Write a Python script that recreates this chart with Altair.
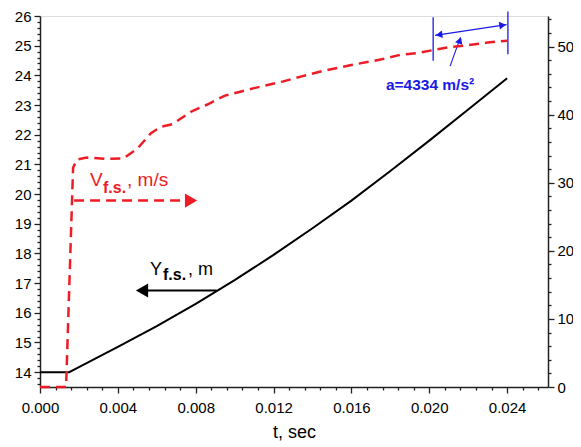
import altair as alt
import pandas as pd

# ---------------- data ----------------
# black curve: Y_f.s. (left axis, m)
t_y = [0.0, 0.0015, 0.002, 0.004, 0.006, 0.008, 0.010, 0.012, 0.014, 0.016,
       0.018, 0.020, 0.022, 0.024]
y_fs = [14.0, 14.0, 14.17, 14.85, 15.55, 16.3, 17.1, 17.95, 18.85, 19.78,
        20.78, 21.8, 22.85, 23.9]

# red dashed curve: V_f.s. (right axis, m/s)
t_v = [0.0, 0.00134, 0.00170, 0.0019, 0.0024, 0.0035, 0.0043, 0.0050, 0.0057,
       0.0062, 0.0068, 0.0078, 0.0086, 0.0095, 0.0110, 0.0125, 0.0134, 0.0145,
       0.0160, 0.0175, 0.0185, 0.0195, 0.0202, 0.0210, 0.0219, 0.0230, 0.0240]
v_fs = [0, 0, 322, 334, 337, 335, 336, 350, 373,
        382, 386, 405, 415, 428, 439, 449, 456, 464,
        473, 481, 488, 491, 495, 499, 502, 506, 508.7]

# annotation anchors (t, left-axis units)
v_arrow_t = [0.00175, 0.0074]
v_arrow_y = [19.78, 19.78]
v_head = (0.00776, 19.78)
y_arrow_t = [0.00908, 0.0055]
y_arrow_y = [16.75, 16.75]
y_head = (0.00524, 16.75)
v_label = (0.00257, 20.28)
y_label = (0.00565, 17.29)

dim_left = (0.0202, 24.49, 25.96)
dim_right = (0.02404, 24.71, 26.15)
dim_arrow_t = [0.0203, 0.02397]
dim_arrow_y = [25.35, 25.71]
leader_t = [0.02107, 0.02160]
leader_y = [24.31, 25.28]
acc_label = (0.02004, 23.52)

# axis tick positions
x_ticks = [round(i * 0.0008, 4) for i in range(0, 33)]
yl_ticks = [round(13.6 + 0.2 * i, 1) for i in range(0, 63)]
yr_ticks = list(range(0, 541, 20))

RED = "#ee1c25"
BLUE = "#1a1ae6"
FONT = "Liberation Sans"
W, H = 508, 371

x_scale = alt.Scale(domain=[0, 0.0261], nice=False, zero=False)
yl_scale = alt.Scale(domain=[13.5, 26], nice=False, zero=False)
yr_scale = alt.Scale(domain=[0, 545], nice=False, zero=False)

tx = "abs(datum.value/0.004 - round(datum.value/0.004)) < 1e-6"
tyl = "abs(datum.value - round(datum.value)) < 1e-6"
tyr = "datum.value % 100 == 0"

common_axis = dict(grid=False, domainColor="#222", domainWidth=1.5,
                   tickColor="#222", tickWidth=1.3, labelFont=FONT,
                   labelColor="black", labelFlush=False, labelOverlap=False,
                   titleFont=FONT, titleColor="black", titleFontWeight="normal")

x_axis = alt.Axis(values=x_ticks, title="t, sec",
                  labelExpr=f"{tx} ? format(datum.value, '.3f') : ''",
                  tickSize={"condition": {"test": tx, "value": 6}, "value": 3},
                  labelFontSize=15, labelPadding=7, titleFontSize=18,
                  titlePadding=8, **common_axis)
yl_axis = alt.Axis(values=yl_ticks, title=None, orient="left",
                   labelExpr=f"{tyl} ? format(datum.value, 'd') : ''",
                   tickSize={"condition": {"test": tyl, "value": 6}, "value": 3},
                   labelFontSize=15, labelPadding=3, **common_axis)
yr_axis = alt.Axis(values=yr_ticks, title=None, orient="right",
                   labelExpr=f"{tyr} ? format(datum.value, 'd') : ''",
                   tickSize={"condition": {"test": tyr, "value": 6}, "value": 3},
                   labelFontSize=15, labelPadding=3, **common_axis)

X = alt.X("t:Q", scale=x_scale, axis=x_axis)
YL = alt.Y("y:Q", scale=yl_scale, axis=yl_axis)
YR = alt.Y("v:Q", scale=yr_scale, axis=yr_axis)


def df(ts, ys):
    return pd.DataFrame({"t": ts, "y": ys, "o": list(range(len(ts)))})


# left-axis layers
y_line = alt.Chart(df(t_y, y_fs)).mark_line(color="black", strokeWidth=2).encode(
    x=X, y=YL, order="o:Q")

v_arrow = alt.Chart(df(v_arrow_t, v_arrow_y)).mark_line(
    color=RED, strokeWidth=2.5, strokeDash=[10, 6]).encode(x=X, y=YL)
v_arrow_head = alt.Chart(df([v_head[0]], [v_head[1]])).mark_point(
    shape="triangle-right", filled=True, color=RED, opacity=1, size=200).encode(x=X, y=YL)

y_arrow = alt.Chart(df(y_arrow_t, y_arrow_y)).mark_line(
    color="black", strokeWidth=2).encode(x=X, y=YL)
y_arrow_head = alt.Chart(df([y_head[0]], [y_head[1]])).mark_point(
    shape="triangle-left", filled=True, color="black", opacity=1, size=200).encode(x=X, y=YL)


def label(pos, text, color, size, dx=0, dy=0, weight="normal"):
    d = pd.DataFrame({"t": [pos[0]], "y": [pos[1]], "s": [text]})
    return alt.Chart(d).mark_text(align="left", baseline="alphabetic", font=FONT,
                                  fontSize=size, color=color, dx=dx, dy=dy,
                                  fontWeight=weight).encode(x=X, y=YL, text="s:N")


v_lab = [label(v_label, "V", RED, 19),
         label(v_label, "f.s.", RED, 16, dx=13, dy=7, weight="bold"),
         label(v_label, ", m/s", RED, 19, dx=37)]
y_lab = [label(y_label, "Y", "black", 18),
         label(y_label, "f.s.", "black", 16, dx=13, dy=5, weight="bold"),
         label(y_label, ", m", "black", 18, dx=38)]

dl = alt.Chart(df([dim_left[0]] * 2, [dim_left[1], dim_left[2]])).mark_line(
    color=BLUE, strokeWidth=1.3).encode(x=X, y=YL)
dr = alt.Chart(df([dim_right[0]] * 2, [dim_right[1], dim_right[2]])).mark_line(
    color=BLUE, strokeWidth=1.3).encode(x=X, y=YL)
da = alt.Chart(df(dim_arrow_t, dim_arrow_y)).mark_line(
    color=BLUE, strokeWidth=1.3).encode(x=X, y=YL)
da_l = alt.Chart(df([dim_arrow_t[0] + 0.0002], [dim_arrow_y[0] + 0.02])).mark_point(
    shape="triangle-left", filled=True, color=BLUE, opacity=1, size=60, angle=352).encode(x=X, y=YL)
da_r = alt.Chart(df([dim_arrow_t[1] - 0.0002], [dim_arrow_y[1] - 0.02])).mark_point(
    shape="triangle-right", filled=True, color=BLUE, opacity=1, size=60, angle=352).encode(x=X, y=YL)
ld = alt.Chart(df(leader_t, leader_y)).mark_line(
    color=BLUE, strokeWidth=1.1).encode(x=X, y=YL)
ld_h = alt.Chart(df([leader_t[1] - 0.00003], [leader_y[1] - 0.1])).mark_point(
    shape="triangle-up", filled=True, color=BLUE, opacity=1, size=60, angle=20).encode(x=X, y=YL)
acc = alt.Chart(pd.DataFrame({"t": [acc_label[0]], "y": [acc_label[1]],
                              "s": ["a=4334 m/s²"]})).mark_text(
    align="center", baseline="alphabetic", font=FONT, fontSize=15.5,
    fontWeight="bold", color=BLUE).encode(x=X, y=YL, text="s:N")

left = alt.layer(y_line, v_arrow, v_arrow_head, y_arrow, y_arrow_head,
                 *v_lab, *y_lab, dl, dr, da, da_l, da_r, ld, ld_h, acc)

# right-axis layer
v_line = alt.Chart(pd.DataFrame({"t": t_v, "v": v_fs, "o": list(range(len(t_v)))})).mark_line(
    color=RED, strokeWidth=2.5, strokeDash=[10, 6]).encode(x=X, y=YR, order="o:Q")

chart = alt.layer(left, v_line).resolve_scale(y="independent").properties(
    width=W, height=H,
    autosize=alt.AutoSizeParams(type="none"),
    padding={"left": 32, "top": 8, "right": 25, "bottom": 58},
).configure_view(strokeWidth=0).configure(background="white")

chart.save("out.html", embed_options={"renderer": "svg", "actions": False})
